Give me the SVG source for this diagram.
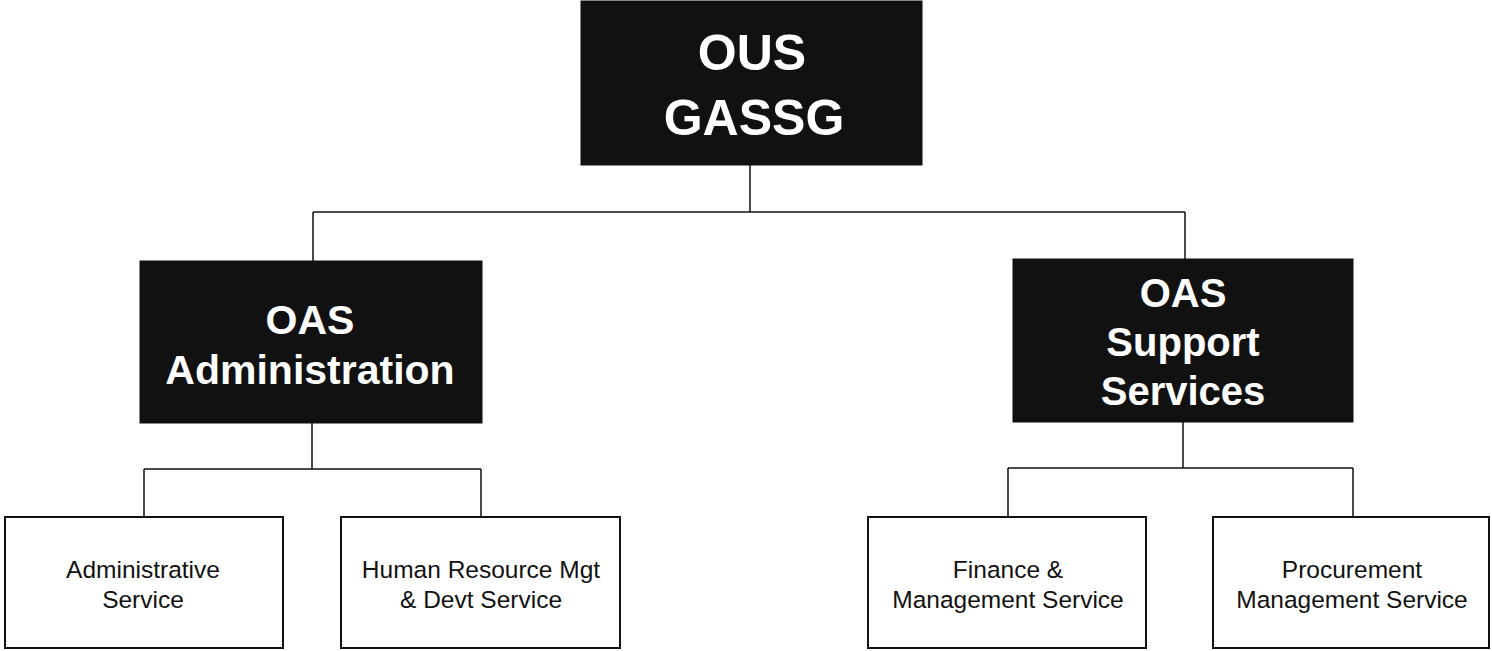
<svg xmlns="http://www.w3.org/2000/svg" width="1492" height="651" viewBox="0 0 1492 651">
<style>
.dark{fill:#111;stroke:#111;stroke-width:1}
.lite{fill:#fff;stroke:#111;stroke-width:2}
.wt{fill:#fff;font-family:"Liberation Sans",Arial,sans-serif;font-weight:bold;text-anchor:middle}
.bt{fill:#111;font-family:"Liberation Sans",Arial,sans-serif;font-size:24.5px;text-anchor:middle}
.conn{fill:none;stroke:#111;stroke-width:1.5}
</style>
<rect width="1492" height="651" fill="#fff"/>
<g id="connectors">
<path class="conn" d="M750 165V212M313 212H1185M313 212V261M1185 212V259"/>
<path class="conn" d="M312 423V469M144 469H481M144 469V517M481 469V517"/>
<path class="conn" d="M1183 422V468M1008 468H1353M1008 468V517M1353 468V517"/>
</g>
<g id="ous">
<rect class="dark" x="581" y="1" width="341" height="164"/>
<text class="wt" x="752" y="70" font-size="50">OUS</text>
<text class="wt" x="754" y="135" font-size="50">GASSG</text>
</g>
<g id="oas-admin">
<rect class="dark" x="140" y="261" width="342" height="162"/>
<text class="wt" x="310" y="334" font-size="41">OAS</text>
<text class="wt" x="310" y="384" font-size="41">Administration</text>
</g>
<g id="oas-support">
<rect class="dark" x="1013" y="259" width="340" height="163"/>
<text class="wt" x="1183" y="307" font-size="40">OAS</text>
<text class="wt" x="1183" y="356" font-size="40">Support</text>
<text class="wt" x="1183" y="405" font-size="40">Services</text>
</g>
<g id="admin-service">
<rect class="lite" x="5" y="517" width="278" height="131"/>
<text class="bt" x="143" y="578">Administrative</text>
<text class="bt" x="143" y="608">Service</text>
</g>
<g id="hr-service">
<rect class="lite" x="341" y="517" width="279" height="131"/>
<text class="bt" x="481" y="578">Human Resource Mgt</text>
<text class="bt" x="481" y="608">&amp; Devt Service</text>
</g>
<g id="finance-service">
<rect class="lite" x="868" y="517" width="278" height="131"/>
<text class="bt" x="1008" y="578">Finance &amp;</text>
<text class="bt" x="1008" y="608">Management Service</text>
</g>
<g id="procurement-service">
<rect class="lite" x="1213" y="517" width="276" height="131"/>
<text class="bt" x="1352" y="578">Procurement</text>
<text class="bt" x="1352" y="608">Management Service</text>
</g>
</svg>
